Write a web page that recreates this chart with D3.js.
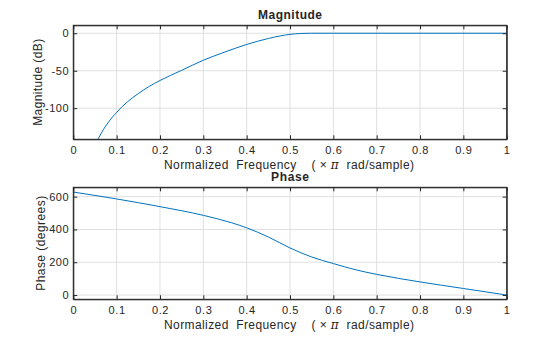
<!DOCTYPE html>
<html>
<head>
<script src="https://d3js.org/d3.v7.min.js" charset="utf-8"></script>
<style>
  body { margin: 0; background: #fff; }
  svg text { font-family: "Liberation Sans", Arial, sans-serif; }
</style>
</head>
<body>
<svg id="chart" width="560" height="337"></svg>
<script>
// values
var xTicks = [0, 0.1, 0.2, 0.3, 0.4, 0.5, 0.6, 0.7, 0.8, 0.9, 1];
var magTicks = [0, -50, -100];
var phaseTicks = [0, 200, 400, 600];

var magFreq = [0.05, 0.0577, 0.07, 0.08, 0.1, 0.125, 0.15, 0.175, 0.2, 0.25, 0.3, 0.35, 0.4, 0.45, 0.5, 0.525, 0.55, 0.6, 1];
var magDb   = [-149, -140.5, -128, -119.5, -105.5, -91.5, -80.5, -71, -63, -49.5, -36, -25, -15, -7, -1.5, -0.3, 0, 0, 0];

var phaseFreq = [0, 0.1, 0.2, 0.3, 0.365, 0.4, 0.45, 0.5, 0.55, 0.6, 0.65, 0.7, 0.8, 0.9, 1];
var phaseDeg  = [628, 586, 539, 486, 441, 410, 354, 287, 232, 192, 155, 126, 80, 40, 0];

var svg = d3.select('#chart');
var left = 73.3, right = 506.7;
var ink = '#262626';

function panel(cfg) {
    var x = d3.scaleLinear().domain([0, 1]).range([left, right]);
    var y = d3.scaleLinear().domain(cfg.ylim).range([cfg.bottom, cfg.top]);
    var g = svg.append('g');
    var id = 'clip' + cfg.name;

    g.append('clipPath').attr('id', id).append('rect')
        .attr('x', left).attr('y', cfg.top)
        .attr('width', right - left).attr('height', cfg.bottom - cfg.top);

    // grid
    g.selectAll('.vg').data(xTicks).enter().append('line')
        .attr('x1', x).attr('x2', x).attr('y1', cfg.top).attr('y2', cfg.bottom)
        .attr('stroke', '#dfdfdf').attr('stroke-width', 1);
    g.selectAll('.hg').data(cfg.yTicks).enter().append('line')
        .attr('y1', y).attr('y2', y).attr('x1', left).attr('x2', right)
        .attr('stroke', '#dfdfdf').attr('stroke-width', 1);

    // curve
    var line = d3.line()
        .x(function(d) { return x(d[0]); })
        .y(function(d) { return y(d[1]); })
        .curve(d3.curveMonotoneX);
    g.append('path')
        .datum(d3.zip(cfg.xs, cfg.ys))
        .attr('clip-path', 'url(#' + id + ')')
        .attr('d', line)
        .attr('fill', 'none')
        .attr('stroke', '#0072bd')
        .attr('stroke-width', 1);

    var fmt = function(d) { return String(d); };  // plain hyphen minus like the original

    // axes, ticks inside like the original
    g.append('g').attr('transform', 'translate(0,' + cfg.bottom + ')')
        .call(d3.axisBottom(x).tickValues(xTicks).tickFormat(fmt).tickSizeInner(-4).tickSizeOuter(0).tickPadding(7));
    g.append('g').attr('transform', 'translate(0,' + cfg.top + ')')
        .call(d3.axisTop(x).tickValues(xTicks).tickFormat('').tickSizeInner(-4).tickSizeOuter(0));
    g.append('g').attr('transform', 'translate(' + left + ',0)')
        .call(d3.axisLeft(y).tickValues(cfg.yTicks).tickFormat(fmt).tickSizeInner(-4).tickSizeOuter(0).tickPadding(4));
    g.append('g').attr('transform', 'translate(' + right + ',0)')
        .call(d3.axisRight(y).tickValues(cfg.yTicks).tickFormat('').tickSizeInner(-4).tickSizeOuter(0));

    g.selectAll('.domain').attr('stroke', ink);
    g.selectAll('.tick line').attr('stroke', ink);
    g.selectAll('.tick text').attr('fill', ink)
        .style('font-family', '"Liberation Sans", Arial, sans-serif').style('font-size', '11px')
        .style('letter-spacing', '0.6px');

    g.append('rect').attr('x', left).attr('y', cfg.top)
        .attr('width', right - left).attr('height', cfg.bottom - cfg.top)
        .attr('fill', 'none').attr('stroke', ink).attr('stroke-width', 1);

    // title
    g.append('text').attr('x', (left + right) / 2).attr('y', cfg.top - 6)
        .attr('text-anchor', 'middle').style('font-size', '12px').style('font-weight', 'bold')
        .attr('textLength', cfg.titleLen).attr('lengthAdjust', 'spacing')
        .attr('fill', ink).text(cfg.title);

    // y label
    g.append('text')
        .attr('transform', 'translate(' + cfg.ylabX + ',' + ((cfg.top + cfg.bottom) / 2) + ') rotate(-90)')
        .attr('dy', '0.35em')
        .attr('text-anchor', 'middle').style('font-size', '12px').attr('fill', ink)
        .attr('textLength', cfg.ylabLen).attr('lengthAdjust', 'spacing')
        .text(cfg.ylabel);

    // x label
    var xl = g.append('text').attr('x', (left + right) / 2 - 1).attr('y', cfg.bottom + cfg.xlabDy)
        .attr('text-anchor', 'middle').style('font-size', '12px').attr('fill', ink)
        .attr('textLength', 250).attr('lengthAdjust', 'spacing')
        .style('white-space', 'pre');
    xl.append('tspan').text('Normalized  Frequency    ( \u00d7 ');
    xl.append('tspan').style('font-style', 'italic').style('font-family', '"DejaVu Serif", serif').text('\u03c0');
    xl.append('tspan').text('  rad/sample)');
}

panel({ name: 'mag', top: 25.3, bottom: 139.3, ylim: [-141.5, 10.6], yTicks: magTicks,
        xs: magFreq, ys: magDb, title: 'Magnitude', titleLen: 64, ylabel: 'Magnitude (dB)', ylabLen: 87,
        ylabX: 37.3, xlabDy: 29.5 });
panel({ name: 'ph', top: 187.3, bottom: 299.3, ylim: [-26, 657], yTicks: phaseTicks,
        xs: phaseFreq, ys: phaseDeg, title: 'Phase', titleLen: 38, ylabel: 'Phase (degrees)', ylabLen: 95,
        ylabX: 40.7, xlabDy: 30 });
</script>
</body>
</html>
